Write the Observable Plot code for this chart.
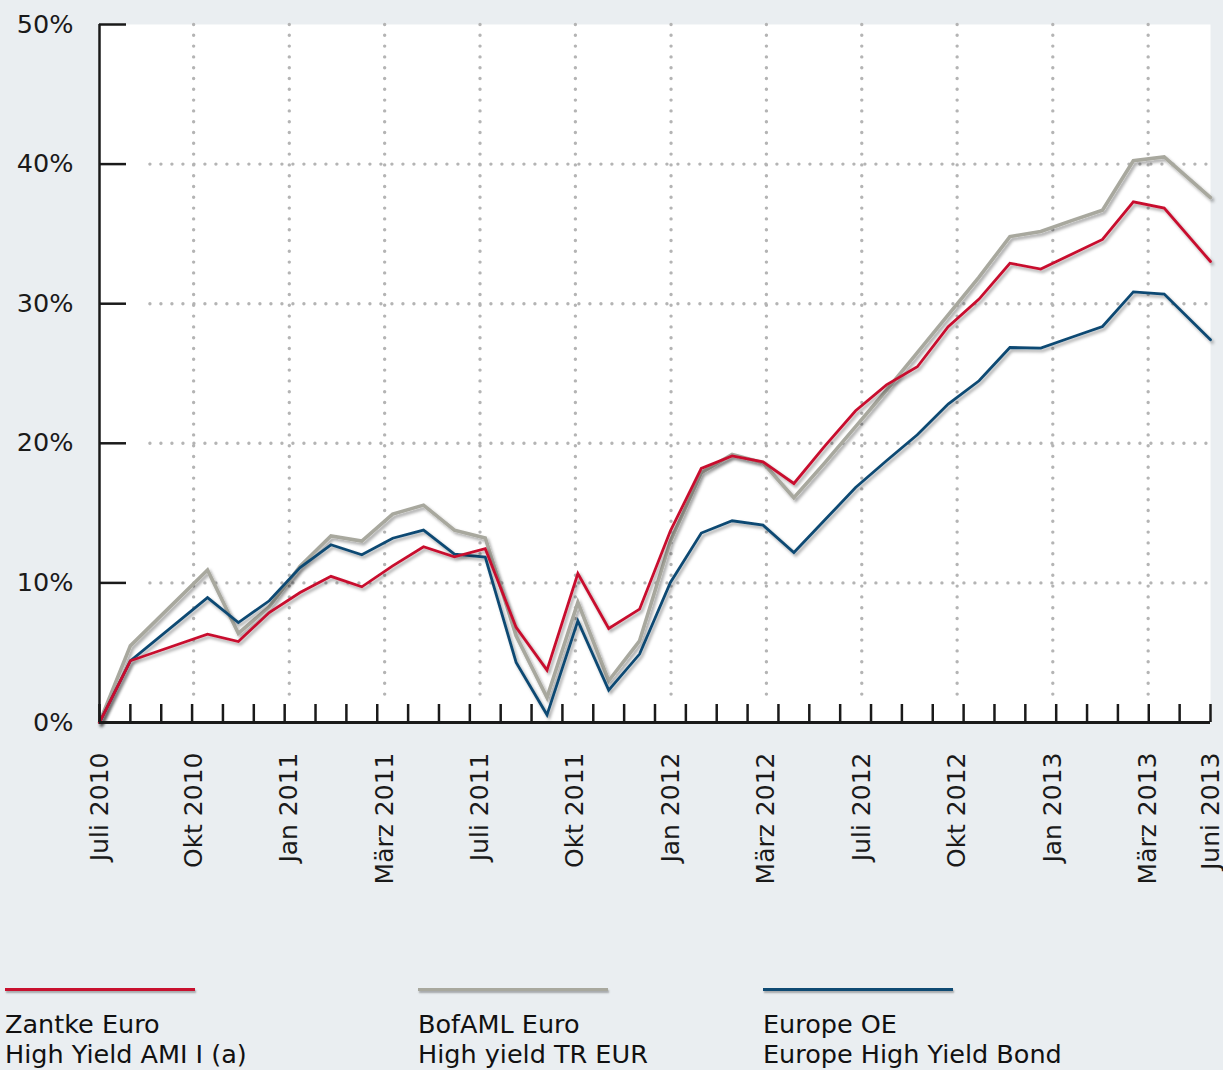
<!DOCTYPE html>
<html>
<head>
<meta charset="utf-8">
<script src="https://cdn.jsdelivr.net/npm/d3@7"></script>
<script src="https://cdn.jsdelivr.net/npm/@observablehq/plot@0.6"></script>
<style>
  html, body { margin: 0; padding: 0; background: #eaeef1; }
  body { width: 1223px; height: 1070px; position: relative; overflow: hidden; font-family: "DejaVu Sans", Verdana, sans-serif; }
  #chart { position: absolute; left: 0; top: 0; }
  .leg { position: absolute; top: 976px; }
  .leg .sw { width: 190px; height: 3px; margin-top: 12px; box-shadow: 1px 2px 2px rgba(0,0,0,0.3); }
  .leg .tx { margin-top: 18px; font-size: 25.5px; line-height: 30px; color: #111; white-space: nowrap; }
</style>
</head>
<body>
<div id="chart"></div>
<div class="leg" style="left:5px"><div class="sw" style="background:#c8102e"></div><div class="tx">Zantke Euro<br>High Yield AMI I (a)</div></div>
<div class="leg" style="left:418px"><div class="sw" style="background:#a8a89e"></div><div class="tx">BofAML Euro<br>High yield TR EUR</div></div>
<div class="leg" style="left:763px"><div class="sw" style="background:#0f4a73"></div><div class="tx">Europe OE<br>Europe High Yield Bond</div></div>
<script>
// month index (0 = Juli 2010, 36 = end of axis)
const xPos = [0, 1, 3.5, 4.5, 5.5, 6.5, 7.5, 8.5, 9.5, 10.5, 11.5, 12.5, 13.5, 14.5, 15.5, 16.5, 17.5, 18.5, 19.5, 20.5, 21.5, 22.5, 23.5, 24.5, 25.5, 26.5, 27.5, 28.5, 29.5, 30.5, 31.5, 32.5, 33.5, 34.5, 36];

const zantke = [0, 4.42, 6.33, 5.80, 7.88, 9.31, 10.47, 9.72, 11.22, 12.59, 11.87, 12.45, 6.81, 3.75, 10.67, 6.73, 8.12, 13.73, 18.2, 19.1, 18.67, 17.12, 19.8, 22.33, 24.19, 25.48, 28.35, 30.33, 32.9, 32.48, 33.55, 34.6, 37.3, 36.85, 33.02];
const bofaml = [0, 5.49, 10.92, 6.38, 8.29, 11.2, 13.37, 13.0, 14.93, 15.57, 13.78, 13.22, 6.21, 1.79, 8.6, 2.99, 5.85, 13.0, 17.9, 19.2, 18.6, 16.1, 18.6, 21.2, 23.8, 26.5, 29.2, 31.9, 34.81, 35.17, 35.95, 36.7, 40.24, 40.52, 37.6];
const europeOE = [0, 4.42, 8.95, 7.16, 8.72, 11.1, 12.73, 12.01, 13.2, 13.78, 12.06, 11.85, 4.3, 0.55, 7.28, 2.32, 4.9, 10.03, 13.57, 14.45, 14.14, 12.18, 14.5, 16.83, 18.75, 20.61, 22.81, 24.48, 26.86, 26.82, 27.6, 28.37, 30.85, 30.69, 27.41];

const seriesNames = ["BofAML Euro High yield TR EUR", "Europe OE Europe High Yield Bond", "Zantke Euro High Yield AMI I (a)"];
const seriesColors = ["#a8a89e", "#0f4a73", "#c8102e"];
const seriesWidths = [3.6, 2.8, 2.8];
const seriesValues = [bofaml, europeOE, zantke];

const monthTicks = d3.range(0, 37);
const labelPos = [0, 3.05, 6.15, 9.24, 12.33, 15.42, 18.52, 21.61, 24.7, 27.79, 30.89, 33.98, 36];
const labelText = ["Juli 2010", "Okt 2010", "Jan 2011", "März 2011", "Juli 2011", "Okt 2011", "Jan 2012", "März 2012", "Juli 2012", "Okt 2012", "Jan 2013", "März 2013", "Juni 2013"];
const gridX = labelPos.slice(1, -1);
const yTicks = [0, 10, 20, 30, 40, 50];
const gridY = [10, 20, 30, 40];

const rows = [];
seriesValues.forEach((vals, s) => vals.forEach((v, i) => rows.push({x: xPos[i], y: v, s: seriesNames[s]})));

const labelMap = new Map(labelPos.map((p, i) => [p, labelText[i]]));

const lineMarks = seriesNames.map((name, s) =>
  Plot.line(rows.filter(r => r.s === name), {x: "x", y: "y", stroke: seriesColors[s], strokeWidth: seriesWidths[s], strokeLinejoin: "miter", strokeMiterlimit: 4})
);

const chart = Plot.plot({
  width: 1223,
  height: 960,
  marginLeft: 99,
  marginRight: 13,
  marginTop: 24,
  marginBottom: 238,
  style: {background: "transparent", fontFamily: "DejaVu Sans, Verdana, sans-serif", fontSize: "25px", color: "#1a1a1a"},
  x: {domain: [0, 36], label: null},
  y: {domain: [0, 50], label: null},
  marks: [
    Plot.frame({fill: "white", stroke: null}),
    Plot.ruleY(gridY, {x1: 1.65, x2: 36, stroke: "#b4b4b4", strokeWidth: 3.4, strokeDasharray: "0 11", strokeLinecap: "round"}),
    Plot.ruleX(gridX, {y1: 2, y2: 50, stroke: "#b4b4b4", strokeWidth: 3.4, strokeDasharray: "0 10.8", strokeLinecap: "round"}),
    ...lineMarks,
    Plot.axisY({ticks: yTicks, label: null, tickSize: -27, tickPadding: 53, tickFormat: d => d + "%", stroke: "#1a1a1a", strokeWidth: 2.5, fill: "#1a1a1a", fontSize: 25.5}),
    Plot.axisX({ticks: monthTicks, label: null, tickSize: -18, tickFormat: () => "", stroke: "#1a1a1a", strokeWidth: 2.5}),
    Plot.axisX({ticks: labelPos, label: null, tickSize: 0, tickPadding: 30, tickRotate: -90, tickFormat: d => labelMap.get(d), fill: "#1a1a1a", fontSize: 25}),
    Plot.ruleX([0], {stroke: "#1a1a1a", strokeWidth: 2.5}),
    Plot.ruleY([0], {x1: 0, x2: 36, stroke: "#1a1a1a", strokeWidth: 3})
  ]
});

// drop shadow for the series lines
const svg = d3.select(chart);
const defs = svg.insert("defs", ":first-child");
const f = defs.append("filter").attr("id", "shadow").attr("x", "-5%").attr("y", "-5%").attr("width", "110%").attr("height", "110%");
f.append("feDropShadow").attr("dx", 2).attr("dy", 2.5).attr("stdDeviation", 1.6).attr("flood-color", "#000").attr("flood-opacity", 0.35);
svg.selectAll('g[aria-label="line"]').attr("filter", "url(#shadow)");

document.getElementById("chart").appendChild(chart);
</script>
</body>
</html>
